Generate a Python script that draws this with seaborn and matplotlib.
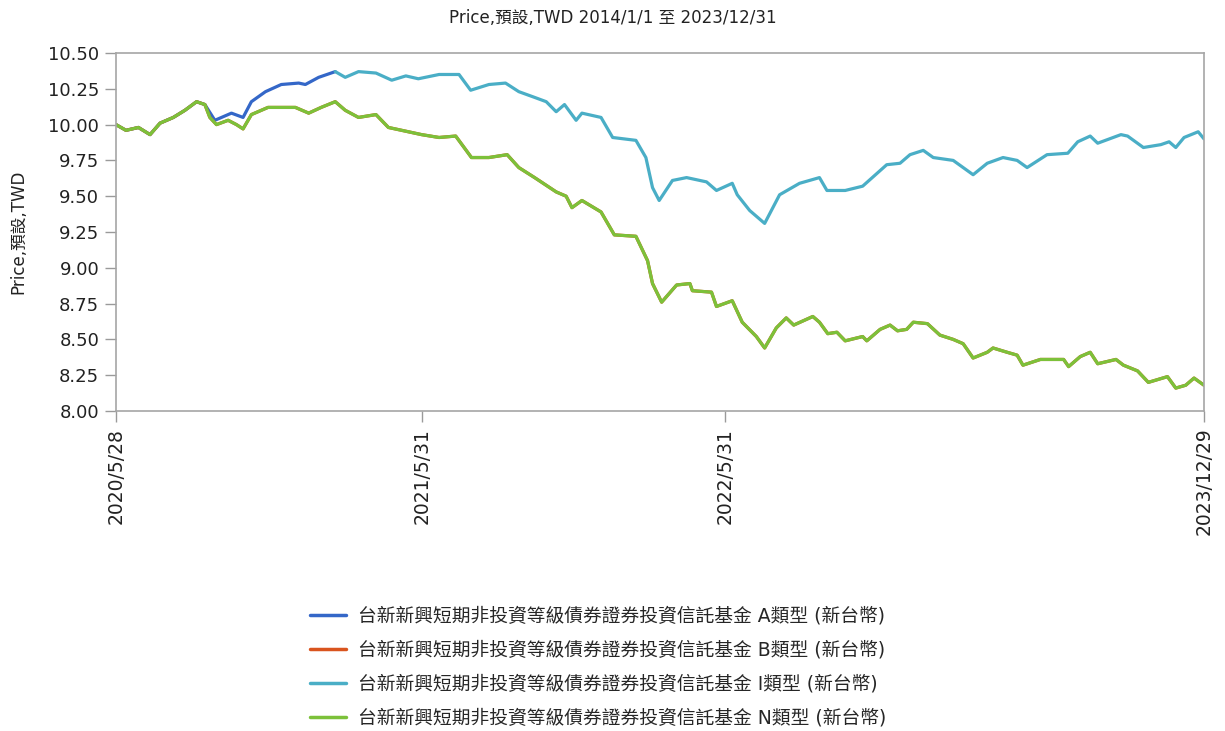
import pandas as pd
import matplotlib
matplotlib.use("Agg")
import matplotlib.pyplot as plt
import seaborn as sns

FUND = "台新新興短期非投資等級債券證券投資信託基金"
LABEL_A = FUND + " A類型 (新台幣)"
LABEL_B = FUND + " B類型 (新台幣)"
LABEL_I = FUND + " I類型 (新台幣)"
LABEL_N = FUND + " N類型 (新台幣)"

# N class (B class runs underneath with the same prices)
n_dates = [
    "2020-05-28", "2020-06-09", "2020-06-24", "2020-07-08", "2020-07-20", "2020-08-05",
    "2020-08-19", "2020-09-02", "2020-09-12", "2020-09-18", "2020-09-26", "2020-10-10",
    "2020-10-20", "2020-10-28", "2020-11-07", "2020-11-27", "2020-12-13", "2020-12-30",
    "2021-01-15", "2021-01-30", "2021-02-16", "2021-02-28", "2021-03-16", "2021-04-06",
    "2021-04-21", "2021-05-15", "2021-05-31", "2021-06-21", "2021-07-11", "2021-07-30",
    "2021-08-20", "2021-09-11", "2021-09-25", "2021-10-14", "2021-11-09", "2021-11-21",
    "2021-11-28", "2021-12-10", "2022-01-02", "2022-01-18", "2022-02-13", "2022-02-27",
    "2022-03-05", "2022-03-16", "2022-04-03", "2022-04-19", "2022-04-22", "2022-05-15",
    "2022-05-21", "2022-06-09", "2022-06-21", "2022-07-08", "2022-07-18", "2022-08-01",
    "2022-08-13", "2022-08-22", "2022-09-14", "2022-09-22", "2022-10-02", "2022-10-13",
    "2022-10-23", "2022-11-13", "2022-11-18", "2022-12-04", "2022-12-16", "2022-12-25",
    "2023-01-05", "2023-01-13", "2023-01-30", "2023-02-14", "2023-03-02", "2023-03-14",
    "2023-03-26", "2023-04-12", "2023-04-19", "2023-05-06", "2023-05-18", "2023-05-25",
    "2023-06-15", "2023-07-13", "2023-07-19", "2023-08-02", "2023-08-14", "2023-08-23",
    "2023-09-14", "2023-09-23", "2023-10-10", "2023-10-23", "2023-11-15", "2023-11-25",
    "2023-12-07", "2023-12-17", "2023-12-29",
]
n_prices = [
    10.00, 9.96, 9.98, 9.93, 10.01, 10.05,
    10.10, 10.16, 10.14, 10.05, 10.00, 10.03,
    10.00, 9.97, 10.07, 10.12, 10.12, 10.12,
    10.08, 10.12, 10.16, 10.10, 10.05, 10.07,
    9.98, 9.95, 9.93, 9.91, 9.92, 9.77,
    9.77, 9.79, 9.70, 9.63, 9.53, 9.50,
    9.42, 9.47, 9.39, 9.23, 9.22, 9.05,
    8.89, 8.76, 8.88, 8.89, 8.84, 8.83,
    8.73, 8.77, 8.62, 8.52, 8.44, 8.58,
    8.65, 8.60, 8.66, 8.62, 8.54, 8.55,
    8.49, 8.52, 8.49, 8.57, 8.60, 8.56,
    8.57, 8.62, 8.61, 8.53, 8.50, 8.47,
    8.37, 8.41, 8.44, 8.41, 8.39, 8.32,
    8.36, 8.36, 8.31, 8.38, 8.41, 8.33,
    8.36, 8.32, 8.28, 8.20, 8.24, 8.16,
    8.18, 8.23, 8.18,
]

a_dates = [
    "2020-05-28", "2020-06-09", "2020-06-24", "2020-07-08", "2020-07-20", "2020-08-05",
    "2020-08-19", "2020-09-02", "2020-09-12", "2020-09-24", "2020-10-02", "2020-10-14",
    "2020-10-28", "2020-11-07", "2020-11-24", "2020-12-13", "2021-01-03", "2021-01-11",
    "2021-01-27", "2021-02-16",
]
a_prices = [
    10.00, 9.96, 9.98, 9.93, 10.01, 10.05,
    10.10, 10.16, 10.14, 10.03, 10.05, 10.08,
    10.05, 10.16, 10.23, 10.28, 10.29, 10.28,
    10.33, 10.37,
]

i_dates = [
    "2021-02-16", "2021-02-28", "2021-03-16", "2021-04-06", "2021-04-25", "2021-05-12",
    "2021-05-27", "2021-06-21", "2021-07-15", "2021-07-29", "2021-08-20", "2021-09-09",
    "2021-09-25", "2021-10-14", "2021-10-28", "2021-11-09", "2021-11-19", "2021-12-03",
    "2021-12-10", "2022-01-02", "2022-01-16", "2022-02-13", "2022-02-25", "2022-03-05",
    "2022-03-13", "2022-03-29", "2022-04-15", "2022-05-09", "2022-05-21", "2022-06-09",
    "2022-06-15", "2022-06-30", "2022-07-18", "2022-08-05", "2022-08-29", "2022-09-22",
    "2022-10-01", "2022-10-23", "2022-11-13", "2022-12-12", "2022-12-28", "2023-01-09",
    "2023-01-25", "2023-02-06", "2023-03-02", "2023-03-26", "2023-04-12", "2023-05-01",
    "2023-05-18", "2023-05-30", "2023-06-23", "2023-07-18", "2023-07-30", "2023-08-14",
    "2023-08-23", "2023-09-20", "2023-09-28", "2023-10-17", "2023-11-07", "2023-11-17",
    "2023-11-25", "2023-12-05", "2023-12-22", "2023-12-29",
]
i_prices = [
    10.37, 10.33, 10.37, 10.36, 10.31, 10.34,
    10.32, 10.35, 10.35, 10.24, 10.28, 10.29,
    10.23, 10.19, 10.16, 10.09, 10.14, 10.03,
    10.08, 10.05, 9.91, 9.89, 9.77, 9.56,
    9.47, 9.61, 9.63, 9.60, 9.54, 9.59,
    9.51, 9.40, 9.31, 9.51, 9.59, 9.63,
    9.54, 9.54, 9.57, 9.72, 9.73, 9.79,
    9.82, 9.77, 9.75, 9.65, 9.73, 9.77,
    9.75, 9.70, 9.79, 9.80, 9.88, 9.92,
    9.87, 9.93, 9.92, 9.84, 9.86, 9.88,
    9.84, 9.91, 9.95, 9.90,
]

tick_dates = ["2020-05-28", "2021-05-31", "2022-05-31", "2023-12-29"]
tick_labels = ["2020/5/28", "2021/5/31", "2022/5/31", "2023/12/29"]
y_ticks = [8.00, 8.25, 8.50, 8.75, 9.00, 9.25, 9.50, 9.75, 10.00, 10.25, 10.50]

colors = {
    LABEL_A: "#3467c8",
    LABEL_B: "#d9541e",
    LABEL_I: "#4aaec6",
    LABEL_N: "#7cc13a",
}


def build_frame():
    parts = [
        pd.DataFrame({"date": a_dates, "price": a_prices, "fund": LABEL_A}),
        pd.DataFrame({"date": n_dates, "price": n_prices, "fund": LABEL_B}),
        pd.DataFrame({"date": i_dates, "price": i_prices, "fund": LABEL_I}),
        pd.DataFrame({"date": n_dates, "price": n_prices, "fund": LABEL_N}),
    ]
    df = pd.concat(parts, ignore_index=True)
    df["date"] = pd.to_datetime(df["date"])
    return df


df = build_frame()

sns.set_theme(style="white")
plt.rcParams["font.family"] = ["DejaVu Sans", "Noto Sans CJK TC"]
TEXT = "#222222"

fig = plt.figure(figsize=(12.25, 7.31), dpi=100)
ax = fig.add_axes([116 / 1225, 1 - 411 / 731, 1088 / 1225, 358 / 731])

sns.lineplot(
    data=df, x="date", y="price", hue="fund",
    hue_order=[LABEL_A, LABEL_B, LABEL_I, LABEL_N],
    palette=colors, linewidth=2.3, ax=ax, estimator=None, sort=True,
)

ax.set_xlim(pd.Timestamp(tick_dates[0]), pd.Timestamp(tick_dates[-1]))
ax.set_ylim(8.0, 10.5)
ax.set_xticks(pd.to_datetime(tick_dates))
ax.set_xticklabels(tick_labels, rotation=90, fontsize=13.5, color=TEXT)
ax.set_yticks(y_ticks)
ax.set_yticklabels([f"{v:.2f}" for v in y_ticks], fontsize=13, color=TEXT)
ax.tick_params(axis="both", direction="out", length=8, width=1, color="#9a9a9a",
               bottom=True, left=True, pad=4)
for side in ["left", "right", "top", "bottom"]:
    ax.spines[side].set_color("#a6a6a6")
    ax.spines[side].set_linewidth(1.2)

ax.set_xlabel("")
ax.set_ylabel("")
fig.text(18 / 1225, 1 - 232 / 731, "Price,預設,TWD", rotation=90, ha="center", va="center",
         fontsize=12, color=TEXT)
fig.text(0.5, 1 - 18 / 731, "Price,預設,TWD 2014/1/1 至 2023/12/31", ha="center", va="center",
         fontsize=12, color=TEXT)

handles, labels = ax.get_legend_handles_labels()
ax.get_legend().remove()
for h in handles:
    h.set_linewidth(2.5)
fig.legend(handles, labels, loc="center left", bbox_to_anchor=(310 / 1225, 1 - 667.5 / 731),
           frameon=False, fontsize=13.5, labelspacing=0.8, handlelength=1.9,
           handletextpad=0.65, borderpad=0, borderaxespad=0)

plt.savefig("out.png", dpi=100)
